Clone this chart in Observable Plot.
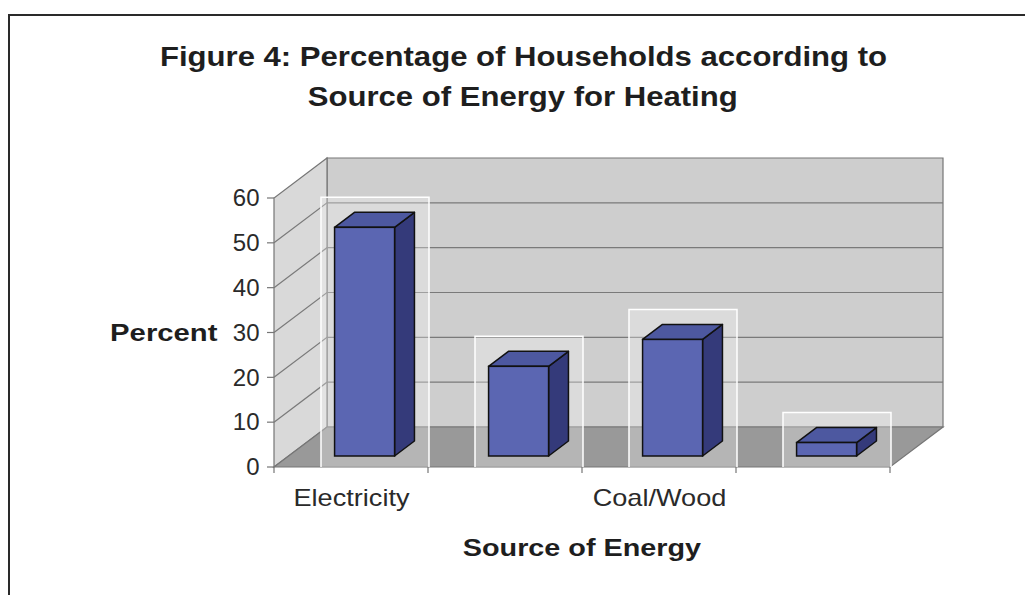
<!DOCTYPE html>
<html>
<head>
<meta charset="utf-8">
<script src="https://cdn.jsdelivr.net/npm/d3@7"></script>
<script src="https://cdn.jsdelivr.net/npm/@observablehq/plot@0.6"></script>
<style>
  body { margin: 0; background: #fff; width: 1025px; height: 595px; overflow: hidden; position: relative;
         font-family: "Liberation Sans", Arial, sans-serif; }
  #frame { position: absolute; left: 8px; top: 14px; width: 1100px; height: 700px;
           border-left: 2px solid #2a2a2a; border-top: 2px solid #2a2a2a; }
  #title { position: absolute; left: 0; top: 37px; width: 1046px; text-align: center; font-weight: bold;
           font-size: 28px; line-height: 40px; color: #1e1e1e; }
  #title span { display: inline-block; transform: scaleX(1.11); white-space: nowrap; }
  #chart { position: absolute; left: 0; top: 120px; }
</style>
</head>
<body>
<div id="frame"></div>
<div id="title"><span>Figure 4: Percentage of Households according to</span><br><span>Source of Energy for Heating</span></div>
<div id="chart"></div>
<script>
// Categories, tick labels and the percentage of households per heating source
const categories = ["src1", "src2", "src3", "src4"];
const tickLabels = ["Electricity", "", "Coal/Wood", ""];
const percents = [51, 20, 26, 3];
const yTicks = [0, 10, 20, 30, 40, 50, 60];
const yTitle = "Percent";
const xTitle = "Source of Energy";

// Oblique 3-D projection: offset of the back wall from the front plane (px),
// and the depth fractions where each bar's front and back faces sit.
const DEPTH = [53, -40];
const BAR_FRONT = 0.275;
const BAR_BACK = 0.65;
const INSET_L = 46, INSET_R = 48;

const labelOf = new Map(categories.map((c, i) => [c, tickLabels[i]]));
const rows = categories.map((c, i) => ({cat: c, value: percents[i]}));

function bandwidthOf(x) {
  if (typeof x.bandwidth === "function") return x.bandwidth();
  if (typeof x.bandwidth === "number") return x.bandwidth;
  return x(categories[1]) - x(categories[0]);
}
const pts = (p) => p.map(([a, b]) => `${a},${b}`).join(" ");

// Walls, floor, gridlines and axis ticks
function backdrop(index, scales) {
  const {x, y} = scales;
  const bw = bandwidthOf(x);
  const x0 = x(categories[0]), x1 = x(categories[categories.length - 1]) + bw;
  const [dx, dy] = DEPTH;
  const y0 = y(0), yTop = y(yTicks[yTicks.length - 1]);
  const g = d3.create("svg:g");
  const poly = (p, fill) => g.append("polygon").attr("points", pts(p))
    .attr("fill", fill).attr("stroke", "#767676").attr("stroke-width", 1.2);
  poly([[x0 + dx, yTop + dy], [x1 + dx, yTop + dy], [x1 + dx, y0 + dy], [x0 + dx, y0 + dy]], "#cecece");
  poly([[x0, y0], [x0, yTop], [x0 + dx, yTop + dy], [x0 + dx, y0 + dy]], "#d9d9d9");
  poly([[x0, y0], [x1, y0], [x1 + dx, y0 + dy], [x0 + dx, y0 + dy]], "#999999");
  for (const t of yTicks.slice(1, -1)) {
    g.append("polyline")
      .attr("points", pts([[x0, y(t)], [x0 + dx, y(t) + dy], [x1 + dx, y(t) + dy]]))
      .attr("fill", "none").attr("stroke", "#7a7a7a").attr("stroke-width", 1.2);
  }
  for (const t of yTicks) {
    g.append("line").attr("x1", x0 - 7).attr("x2", x0).attr("y1", y(t)).attr("y2", y(t))
      .attr("stroke", "#767676").attr("stroke-width", 1.2);
  }
  const bounds = categories.map((c) => x(c)).concat([x1]);
  for (const b of bounds) {
    g.append("line").attr("x1", b).attr("x2", b).attr("y1", y0).attr("y2", y0 + 6)
      .attr("stroke", "#767676").attr("stroke-width", 1.2);
  }
  return g.node();
}

// Lighter panels behind each bar
function panels(index, scales) {
  const {x, y} = scales;
  const bw = bandwidthOf(x);
  const backDy = DEPTH[1] * BAR_BACK;
  const g = d3.create("svg:g");
  for (const r of rows) {
    const left = x(r.cat) + 47, right = x(r.cat) + bw + 1;
    const top = y(r.value) + backDy - 15, bottom = y(0);
    g.append("rect").attr("x", left).attr("y", top).attr("width", right - left).attr("height", bottom - top)
      .attr("fill", "#ffffff").attr("fill-opacity", 0.28);
    g.append("polyline").attr("points", pts([[left, bottom], [left, top], [right, top], [right, bottom]]))
      .attr("fill", "none").attr("stroke", "#ffffff").attr("stroke-width", 1.5);
  }
  return g.node();
}

// Top and side faces of each bar
function barFaces(index, scales) {
  const {x, y} = scales;
  const bw = bandwidthOf(x);
  const fx = DEPTH[0] * BAR_FRONT, fy = DEPTH[1] * BAR_FRONT;
  const ddx = DEPTH[0] * (BAR_BACK - BAR_FRONT), ddy = DEPTH[1] * (BAR_BACK - BAR_FRONT);
  const g = d3.create("svg:g");
  for (const r of rows) {
    const xl = x(r.cat) + INSET_L + fx, xr = x(r.cat) + bw - INSET_R + fx;
    const yt = y(r.value) + fy, yb = y(0) + fy;
    g.append("polygon").attr("points", pts([[xr, yt], [xr + ddx, yt + ddy], [xr + ddx, yb + ddy], [xr, yb]]))
      .attr("fill", "#343a7a").attr("stroke", "#111").attr("stroke-width", 1.5).attr("stroke-linejoin", "round");
    g.append("polygon").attr("points", pts([[xl, yt], [xr, yt], [xr + ddx, yt + ddy], [xl + ddx, yt + ddy]]))
      .attr("fill", "#4d58a0").attr("stroke", "#111").attr("stroke-width", 1.5).attr("stroke-linejoin", "round");
  }
  return g.node();
}

const chart = Plot.plot({
  width: 1025,
  height: 475,
  marginLeft: 272,
  marginRight: 134,
  marginTop: 78,
  marginBottom: 128,
  style: {background: "transparent", fontFamily: "'Liberation Sans', Arial, sans-serif", color: "#222"},
  x: {type: "band", domain: categories, padding: 0},
  y: {domain: [0, 60]},
  marks: [
    backdrop,
    panels,
    barFaces,
    Plot.barY(rows, {
      x: "cat", y: "value", fill: "#5b66b2", stroke: "#111", strokeWidth: 1.5,
      insetLeft: INSET_L, insetRight: INSET_R,
      dx: DEPTH[0] * BAR_FRONT, dy: DEPTH[1] * BAR_FRONT
    }),
    Plot.axisY(yTicks, {tickSize: 0, tickPadding: 13, fontSize: 24, color: "#2a2a2a", label: null}),
    Plot.axisX({tickSize: 0, tickPadding: 21, fontSize: 24, color: "#2a2a2a", label: null,
                tickFormat: (d) => labelOf.get(d)}),
    Plot.text([yTitle], {y: [30], frameAnchor: "left", dx: -55, textAnchor: "end",
                         fontSize: 24, fontWeight: "bold", fill: "#1e1e1e"}),
    Plot.text([xTitle], {frameAnchor: "bottom", dy: 88, fontSize: 24, fontWeight: "bold", fill: "#1e1e1e"})
  ]
});

document.getElementById("chart").appendChild(chart);

// Horizontally widened lettering: scale each text about its own anchor point
const widen = new Map([[yTitle, 1.22], [xTitle, 1.2]]);
tickLabels.filter((t) => t).forEach((t) => widen.set(t, 1.13));
d3.select(chart).selectAll("text")
  .filter(function () { return widen.has(this.textContent); })
  .each(function () {
    const k = widen.get(this.textContent);
    const box = this.getBBox();
    const anchor = getComputedStyle(this).textAnchor;
    const ax = anchor === "end" ? box.x + box.width : anchor === "start" ? box.x : box.x + box.width / 2;
    const base = this.getAttribute("transform") || "";
    this.setAttribute("transform", `${base} translate(${ax},0) scale(${k},1) translate(${-ax},0)`);
  });
</script>
</body>
</html>
